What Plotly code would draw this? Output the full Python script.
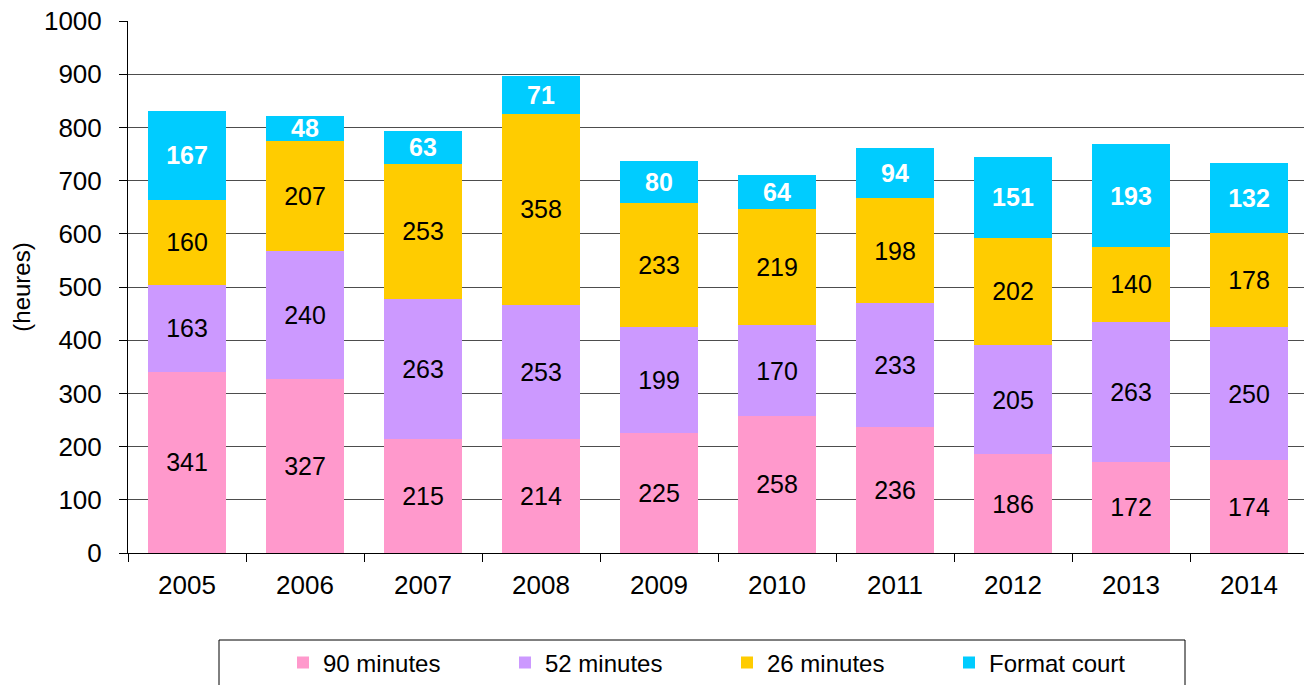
import plotly.graph_objects as go

years = ['2005', '2006', '2007', '2008', '2009', '2010', '2011', '2012', '2013', '2014']
min90 = [341, 327, 215, 214, 225, 258, 236, 186, 172, 174]
min52 = [163, 240, 263, 253, 199, 170, 233, 205, 263, 250]
min26 = [160, 207, 253, 358, 233, 219, 198, 202, 140, 178]
court = [167, 48, 63, 71, 80, 64, 94, 151, 193, 132]

series = [
    ('90 minutes', min90, '#FF99CC', 'black', 'normal'),
    ('52 minutes', min52, '#CC99FF', 'black', 'normal'),
    ('26 minutes', min26, '#FFCC00', 'black', 'normal'),
    ('Format court', court, '#00CCFF', 'white', 'bold'),
]

FONT = 'Liberation Sans, Arial'

fig = go.Figure()
for name, vals, color, tcolor, weight in series:
    fig.add_trace(go.Bar(
        x=years, y=vals, name=name,
        marker=dict(color=color, line=dict(width=0)),
        text=vals, textposition='inside', insidetextanchor='middle',
        textangle=0,
        textfont=dict(color=tcolor, size=25, weight=weight, family=FONT),
    ))

# page has an 8px body margin, so the figure is 1304x677 and sits at (8, 8)
# plot area: x 128..1308, y 21..553 in the window
fig.add_shape(type='rect', xref='paper', yref='paper',
              x0=(219 - 128) / 1180, x1=(1185 - 128) / 1180,
              y0=(553 - 640) / 532, y1=(553 - 700) / 532,
              line=dict(color='black', width=1), fillcolor='rgba(0,0,0,0)')

fig.update_layout(
    barmode='stack',
    bargap=0.34,
    width=1304, height=677,
    margin=dict(l=120, r=4, t=13, b=132, autoexpand=False),
    plot_bgcolor='white', paper_bgcolor='white',
    font=dict(family=FONT, size=24, color='black'),
    uniformtext=dict(minsize=25, mode='show'),
    showlegend=True,
    legend=dict(
        orientation='h', x=(283 - 128) / 1180, xanchor='left',
        y=(553 - 663) / 532, yanchor='middle',
        borderwidth=0, bgcolor='rgba(0,0,0,0)',
        entrywidth=177, font=dict(size=24),
        traceorder='normal',
    ),
    yaxis=dict(
        range=[0, 1000], dtick=100,
        showgrid=True, gridcolor='#4d4d4d', gridwidth=1,
        showline=True, linecolor='black', linewidth=1,
        ticks='outside', ticklen=8, tickcolor='black',
        ticklabelstandoff=12, ticklabeloverflow='allow',
        zeroline=False,
        title=dict(text='(heures)', standoff=8, font=dict(size=24)),
        tickfont=dict(size=26),
    ),
    xaxis=dict(
        showline=True, linecolor='black', linewidth=1,
        ticks='outside', ticklen=8, tickcolor='black',
        tickson='boundaries',
        ticklabelstandoff=9,
        tickfont=dict(size=26),
    ),
)

fig.write_html("out.html")
